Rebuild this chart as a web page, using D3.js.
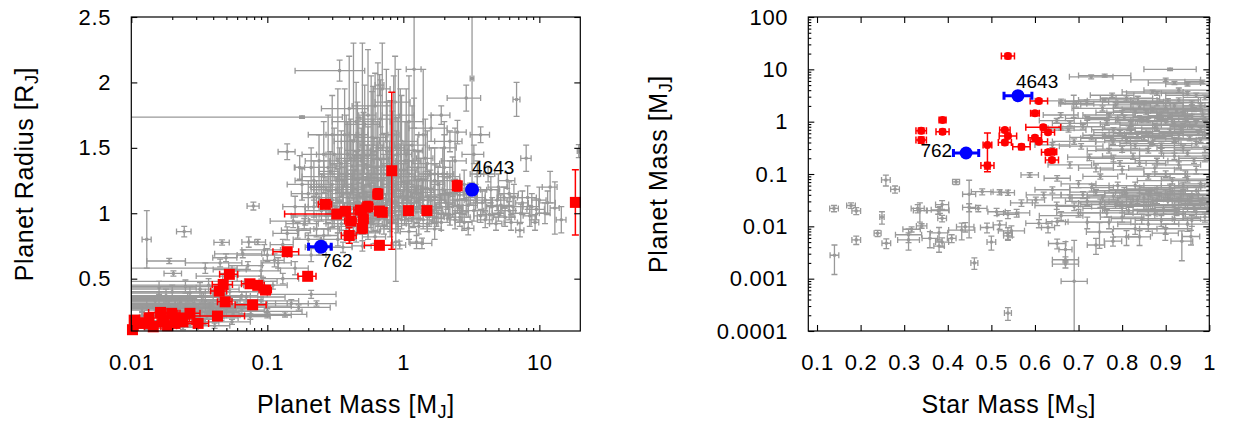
<!DOCTYPE html>
<html><head><meta charset="utf-8">
<script src="https://cdn.jsdelivr.net/npm/d3@7"></script>
<style>
html,body{margin:0;padding:0;background:#fff;}
svg text{font-family:"Liberation Sans",Arial,Helvetica,sans-serif;fill:#000;}
</style></head><body>
<svg id="chart" width="1243" height="432"></svg>
<script>
// ---------------- DATA ----------------
// Left panel: [planet mass (MJ), planet radius (RJ), mass err, radius err]
const leftGray = [
 // low-mass planets
 [0.011,0.15,0.004,0.02],[0.012,0.22,0.006,0.03],[0.013,0.30,0.008,0.04],[0.014,0.18,0.005,0.02],
 [0.015,0.26,0.010,0.03],[0.016,0.35,0.012,0.05],[0.017,0.14,0.006,0.02],[0.018,0.21,0.009,0.03],
 [0.019,0.29,0.011,0.04],[0.020,0.40,0.015,0.05],[0.021,0.17,0.007,0.02],[0.022,0.24,0.010,0.03],
 [0.023,0.32,0.020,0.04],[0.024,0.20,0.008,0.02],[0.025,0.27,0.015,0.03],[0.026,0.36,0.018,0.04],
 [0.027,0.15,0.006,0.02],[0.028,0.23,0.012,0.03],[0.029,0.31,0.020,0.04],[0.030,0.19,0.010,0.02],
 [0.031,0.28,0.025,0.03],[0.032,0.42,0.030,0.05],[0.033,0.25,0.015,0.03],[0.035,0.33,0.028,0.04],
 [0.036,0.21,0.012,0.02],[0.038,0.29,0.030,0.03],[0.040,0.37,0.035,0.04],[0.042,0.24,0.020,0.03],
 [0.044,0.30,0.040,0.03],[0.046,0.20,0.015,0.02],[0.048,0.34,0.045,0.04],[0.050,0.27,0.025,0.03],
 [0.053,0.40,0.050,0.05],[0.056,0.23,0.020,0.02],[0.060,0.31,0.055,0.03],[0.065,0.26,0.030,0.03],
 [0.070,0.36,0.065,0.04],[0.075,0.21,0.030,0.02],[0.080,0.29,0.070,0.03],[0.090,0.33,0.080,0.03],
 [0.013,0.12,0.004,0.01],[0.016,0.43,0.014,0.05],[0.019,0.16,0.006,0.02],[0.024,0.13,0.007,0.02],
 [0.027,0.39,0.022,0.05],[0.034,0.17,0.010,0.02],[0.037,0.45,0.030,0.05],[0.041,0.14,0.012,0.02],
 [0.047,0.48,0.040,0.06],[0.055,0.17,0.020,0.02],[0.012,0.27,0.010,0.03],[0.015,0.33,0.013,0.04],
 [0.018,0.37,0.016,0.05],[0.021,0.30,0.019,0.04],[0.025,0.44,0.023,0.05],[0.029,0.19,0.012,0.02],
 [0.033,0.36,0.031,0.04],[0.039,0.26,0.020,0.03],[0.045,0.22,0.018,0.02],[0.052,0.30,0.030,0.03],
 [0.17,0.28,0.12,0.02],[0.10,0.25,0.08,0.02],[0.21,0.38,0.11,0.03],[0.23,0.31,0.09,0.02],
 [0.135,0.227,0.06,0.02],[0.10,0.22,0.05,0.02],[0.15,0.31,0.05,0.03],[0.065,0.37,0.02,0.03],
 // sub-Saturns and outliers
 [0.013,0.80,0.001,0.22],[0.0245,0.86,0.003,0.04],[0.019,0.635,0.006,0.02],[0.0204,0.54,0.003,0.02],
 [0.079,1.055,0.008,0.03],[0.14,1.47,0.02,0.06],[0.173,1.35,0.015,0.09],[0.0465,0.777,0.006,0.02],
 [0.073,0.78,0.008,0.04],[0.085,0.78,0.012,0.02],[0.0497,0.66,0.010,0.03],[0.066,0.69,0.025,0.03],
 [0.095,0.72,0.030,0.04],[0.113,0.64,0.020,0.05],[0.14,0.846,0.030,0.05],[0.167,0.87,0.040,0.06],
 [0.20,0.80,0.045,0.05],[0.187,0.92,0.050,0.04],[0.13,0.76,0.025,0.04],[0.072,0.60,0.020,0.03],
 [0.12,0.62,0.030,0.04],[0.055,0.57,0.015,0.03],[0.093,0.48,0.025,0.03],[0.13,0.50,0.040,0.04],
 [0.09,0.56,0.035,0.04],[0.11,0.45,0.030,0.03],[0.16,0.58,0.040,0.05],[0.06,0.52,0.030,0.04],
 [0.10,0.68,0.040,0.05],[0.21,0.68,0.060,0.05],[0.24,0.74,0.050,0.06],[0.045,0.62,0.020,0.03],
 [0.035,0.58,0.025,0.04],[0.155,0.94,0.050,0.05],[0.23,0.88,0.060,0.06],[0.26,0.83,0.070,0.05],
 [0.18,1.735,0.176,0.01],[0.34,2.09,0.18,0.08],[0.67,1.98,0.05,0.08],[1.2,2.10,0.15,0.45],
 // hot Jupiters
 [0.22,1.05,0.03,0.08],[0.25,1.20,0.04,0.10],[0.27,0.98,0.05,0.06],[0.29,1.32,0.05,0.15],
 [0.30,1.10,0.06,0.12],[0.31,1.45,0.08,0.20],[0.33,1.25,0.04,0.09],[0.34,1.02,0.05,0.07],
 [0.35,1.38,0.06,0.25],[0.36,1.15,0.07,0.10],[0.37,1.60,0.10,0.35],[0.38,1.28,0.05,0.12],
 [0.40,1.08,0.06,0.08],[0.41,1.42,0.09,0.30],[0.42,1.22,0.05,0.11],[0.43,1.55,0.08,0.75],
 [0.44,0.97,0.06,0.06],[0.45,1.33,0.07,0.14],[0.46,1.18,0.05,0.09],[0.47,1.48,0.10,0.25],
 [0.48,1.05,0.06,0.08],[0.50,1.27,0.08,0.16],[0.51,1.37,0.06,0.40],[0.52,1.12,0.07,0.10],
 [0.53,0.93,0.05,0.07],[0.55,1.44,0.09,0.22],[0.56,1.21,0.06,0.12],[0.58,1.30,0.10,0.18],
 [0.59,1.03,0.06,0.09],[0.60,1.52,0.12,0.45],[0.62,1.16,0.07,0.11],[0.63,1.35,0.09,0.20],
 [0.65,1.25,0.15,0.30],[0.66,0.99,0.06,0.08],[0.68,1.41,0.10,0.25],[0.70,1.14,0.08,0.12],
 [0.72,1.30,0.10,0.15],[0.74,1.06,0.07,0.09],[0.76,1.50,0.12,0.35],[0.78,1.22,0.09,0.13],
 [0.80,1.36,0.11,0.50],[0.82,1.10,0.08,0.10],[0.85,1.28,0.10,0.16],[0.87,1.01,0.09,0.08],
 [0.90,1.45,0.15,0.28],[0.92,1.18,0.09,0.12],[0.95,1.33,0.12,0.20],[0.98,1.08,0.10,0.09],
 [1.00,1.24,0.12,0.14],[1.03,1.40,0.15,0.30],[1.06,1.13,0.11,0.10],[1.10,1.30,0.13,0.22],
 [1.12,1.02,0.10,0.08],[1.15,1.20,0.14,0.15],[1.20,1.48,0.18,0.40],[1.25,1.15,0.12,0.11],
 [1.28,1.35,0.20,0.25],[1.30,1.05,0.12,0.09],[1.35,1.26,0.15,0.16],[1.40,1.10,0.14,0.10],
 [1.45,1.42,0.20,0.30],[1.50,1.19,0.16,0.13],[1.55,0.98,0.15,0.08],[1.60,1.30,0.20,0.20],
 [1.70,1.12,0.18,0.12],[1.80,1.22,0.22,0.14],[1.90,1.05,0.20,0.09],[2.00,1.35,0.30,0.25],
 [2.10,1.15,0.25,0.12],[2.20,0.99,0.22,0.08],[2.30,1.25,0.30,0.18],[2.50,1.10,0.30,0.10],
 [2.70,1.02,0.30,0.09],[2.90,1.88,0.80,0.10],[3.20,2.03,0.10,0.80],
 [0.33,1.40,0.04,0.55],[0.50,1.60,0.05,0.70],[0.58,1.45,0.06,0.60],[0.65,1.50,0.05,0.65],
 [0.75,1.55,0.08,0.55],[0.92,1.50,0.10,0.60],[1.40,1.60,0.10,0.50],[0.38,1.30,0.05,0.45],
 [0.28,1.35,0.04,0.40],[0.55,1.75,0.08,0.50],[0.85,1.60,0.08,0.45],[1.05,1.45,0.10,0.50],
 [0.70,1.95,0.10,0.35],[0.45,1.70,0.15,0.30],[0.62,1.82,0.20,0.25],[0.95,1.75,0.25,0.20],
 [0.24,1.12,0.06,0.10],[0.26,1.28,0.08,0.12],[0.32,1.18,0.10,0.10],[0.39,0.95,0.08,0.07],
 [0.47,1.00,0.09,0.08],[0.57,0.96,0.10,0.07],[0.64,1.08,0.12,0.08],[0.73,0.98,0.10,0.07],
 [0.83,1.15,0.15,0.10],[0.97,0.95,0.12,0.07],[1.08,1.18,0.20,0.10],[1.18,0.96,0.15,0.07],
 [1.33,1.12,0.25,0.09],[1.52,1.05,0.20,0.08],[1.75,0.97,0.25,0.07],[2.05,1.08,0.35,0.10],
 [2.40,0.95,0.30,0.07],[0.36,1.20,0.15,0.15],[0.44,1.26,0.12,0.18],[0.53,1.16,0.18,0.12],
 [0.61,1.27,0.15,0.20],[0.69,1.20,0.20,0.15],[0.79,1.33,0.18,0.22],[0.88,1.22,0.20,0.15],
 [1.01,1.33,0.25,0.22],[1.22,1.28,0.30,0.20],[1.58,1.18,0.35,0.15],[1.95,1.30,0.40,0.20],
 [0.30,0.95,0.10,0.06],[0.32,1.05,0.12,0.07],[0.35,0.92,0.08,0.05],[0.37,1.00,0.10,0.08],
 [0.39,1.12,0.12,0.10],[0.41,1.03,0.09,0.07],[0.43,0.90,0.10,0.06],[0.45,1.08,0.15,0.10],
 [0.47,1.14,0.12,0.09],[0.49,0.94,0.10,0.07],[0.51,1.00,0.13,0.08],[0.54,1.07,0.15,0.09],
 [0.57,1.13,0.12,0.10],[0.60,0.92,0.10,0.06],[0.63,1.00,0.15,0.08],[0.67,1.10,0.15,0.10],
 [0.71,1.04,0.12,0.08],[0.76,0.95,0.15,0.07],[0.80,1.02,0.18,0.09],[0.86,1.08,0.15,0.10],
 [0.93,1.04,0.20,0.08],[1.02,0.98,0.20,0.07],[1.14,1.08,0.25,0.09],[1.26,1.01,0.20,0.08],
 [1.38,1.16,0.30,0.10],[1.65,1.02,0.30,0.08],[1.85,1.14,0.35,0.10],[2.15,1.05,0.40,0.09],
 [2.6,1.14,0.45,0.10],[3.0,1.06,0.50,0.09],[3.4,1.12,0.60,0.10],[4.4,1.18,0.70,0.10],
 [5.2,1.06,0.80,0.08],[6.5,1.12,1.00,0.10],[8.8,1.05,1.20,0.10],[6.2,0.93,0.70,0.06],
 [4.0,0.95,0.50,0.06],[2.8,0.93,0.40,0.06],
 [0.30,1.22,0.08,0.15],[0.34,1.30,0.10,0.20],[0.39,1.45,0.12,0.25],[0.42,1.36,0.10,0.20],
 [0.46,1.55,0.15,0.30],[0.49,1.40,0.12,0.25],[0.54,1.30,0.15,0.22],[0.59,1.58,0.15,0.35],
 [0.64,1.42,0.20,0.28],[0.71,1.36,0.18,0.25],[0.77,1.27,0.20,0.20],[0.83,1.48,0.25,0.30],
 [0.89,1.38,0.20,0.25],[0.97,1.55,0.30,0.35],[1.08,1.40,0.25,0.30],[1.16,1.52,0.30,0.30],
 [1.3,1.25,0.30,0.22],[1.5,1.38,0.35,0.25],[1.7,1.30,0.40,0.20],[2.4,1.40,0.50,0.25],
 [2.0,1.50,0.45,0.20],[0.52,1.68,0.15,0.30],[0.68,1.72,0.20,0.30],[0.87,1.85,0.25,0.35],
 [0.40,1.80,0.15,0.40],[0.30,1.60,0.10,0.30],[1.10,1.70,0.30,0.35],[0.26,1.45,0.08,0.25],
 [0.22,1.25,0.06,0.15],[0.20,1.15,0.05,0.10],
 [0.28,0.88,0.06,0.05],[0.33,0.80,0.08,0.05],[0.45,0.84,0.10,0.06],[0.55,0.86,0.12,0.06],
 [0.72,0.90,0.10,0.06],[0.62,0.82,0.12,0.05],[0.36,0.74,0.06,0.04],[1.1,0.86,0.15,0.06],
 [1.5,0.92,0.30,0.06],[1.25,0.78,0.15,0.05],[0.5,0.75,0.08,0.04],
 [1.6,1.10,0.30,0.08],[1.8,1.00,0.35,0.07],[2.0,1.18,0.40,0.10],[2.3,1.05,0.45,0.08],
 [2.6,0.97,0.50,0.07],[2.9,1.10,0.55,0.09],[3.3,1.02,0.60,0.08],[3.8,1.08,0.70,0.09],
 [4.3,0.99,0.80,0.07],[4.9,1.10,0.90,0.08],[5.6,0.97,1.00,0.07],[6.4,1.05,1.10,0.08],
 [7.3,1.00,1.20,0.07],[8.2,1.12,1.30,0.09],[9.5,1.03,1.40,0.08],[11.5,1.08,1.60,0.09],
 [2.2,1.28,0.40,0.12],[2.8,1.22,0.50,0.11],[3.5,1.18,0.60,0.10],[1.4,0.95,0.25,0.07],
 [1.2,1.12,0.20,0.09],[1.0,1.05,0.20,0.08],[1.7,1.25,0.30,0.12],[1.3,0.90,0.20,0.06],
 [0.9,0.92,0.15,0.07],[0.8,0.88,0.12,0.06],[1.9,0.93,0.30,0.06],[2.4,1.16,0.40,0.10],
 [5.0,1.20,0.80,0.10],[6.0,1.15,1.00,0.09],
 [0.16,1.05,0.03,0.08],[0.18,1.22,0.04,0.12],[0.19,0.98,0.04,0.07],[0.21,1.35,0.05,0.15],
 [0.23,1.15,0.05,0.10],[0.25,1.02,0.06,0.08],[0.27,1.18,0.06,0.10],[0.29,1.08,0.07,0.09],
 [0.31,0.98,0.07,0.08],[0.24,1.40,0.05,0.20],
 // massive planets
 [3.0,0.885,0.30,0.05],[7.2,0.87,0.50,0.05],[9.3,0.93,0.60,0.06],[13.0,1.04,1.00,0.20],
 [14.5,0.95,1.20,0.10],[3.5,1.30,0.40,0.10],[4.0,1.10,0.50,0.08],[4.5,1.05,0.40,0.07],
 [5.0,1.00,0.50,0.06],[5.5,1.12,0.60,0.08],[6.0,1.02,0.70,0.07],[6.8,1.87,0.40,0.13],
 [7.5,1.08,0.80,0.09],[8.5,0.98,0.90,0.08],[10.0,1.10,1.20,0.10],[11.0,1.00,1.00,0.08],
 [12.0,1.20,1.50,0.12],[3.3,1.45,0.60,0.07],[4.2,1.30,0.50,0.06],[5.8,1.25,0.80,0.06],
 [8.0,1.42,0.70,0.10],[19.5,1.475,0.50,0.05],[3.7,0.98,0.40,0.05],[4.8,0.92,0.50,0.05],
 [2.6,1.00,0.30,0.06],[3.1,1.15,0.35,0.08],[1.7,0.88,0.20,0.08],[1.37,0.77,0.25,0.04],
 [0.88,0.78,0.05,0.30],[0.94,0.757,0.10,0.03],[2.2,1.55,0.50,0.08],[1.9,1.75,0.30,0.07],
 [2.5,1.62,0.40,0.09],[1.6,1.65,0.50,0.10],[3.7,1.60,0.60,0.06]
];
const leftRed = [
 [0.0105,0.183,0.001,0.02],[0.0102,0.11,0.001,0.02],[0.0122,0.158,0.002,0.02],[0.0145,0.132,0.002,0.02],
 [0.0164,0.242,0.003,0.03],[0.0198,0.235,0.003,0.03],[0.0228,0.196,0.004,0.02],[0.027,0.235,0.005,0.03],
 [0.031,0.158,0.006,0.02],[0.0209,0.158,0.004,0.02],[0.0172,0.17,0.003,0.02],[0.0135,0.20,0.002,0.02],
 [0.024,0.17,0.004,0.02],[0.0185,0.14,0.003,0.02],[0.043,0.214,0.025,0.02],[0.049,0.323,0.006,0.03],
 [0.0443,0.405,0.006,0.03],[0.0474,0.456,0.008,0.03],[0.0526,0.533,0.008,0.03],[0.0746,0.461,0.010,0.03],
 [0.085,0.449,0.010,0.03],[0.097,0.413,0.010,0.03],[0.078,0.30,0.020,0.03],[0.14,0.706,0.030,0.03],
 [0.198,0.518,0.030,0.03],[0.267,1.068,0.030,0.03],[0.324,0.994,0.190,0.03],[0.375,1.015,0.030,0.03],
 [0.483,1.024,0.050,0.03],[0.547,1.05,0.050,0.04],[0.667,1.017,0.050,0.03],[0.70,1.007,0.050,0.03],
 [1.09,1.02,0.050,0.03],[1.49,1.02,0.070,0.03],[0.41,0.94,0.040,0.03],[0.508,0.958,0.040,0.04],
 [0.50,0.885,0.040,0.04],[0.40,0.83,0.050,0.06],[0.667,0.755,0.150,0.03],[0.65,1.147,0.050,0.04],
 [0.822,1.325,0.020,0.60],[2.49,1.21,0.100,0.04],[18.4,1.083,0.30,0.25]
];
const leftBlue = [[3.2,1.18,0,0],[0.248,0.744,0.047,0]];
const blueNames = ["4643","762"];

// Right panel: [star mass (MS), planet mass (MJ), star mass err, planet mass err]
const rightGray = [
 [0.258,0.077,0.010,0.018],[0.279,0.051,0.010,0.008],[0.139,0.022,0.010,0.003],[0.178,0.025,0.010,0.003],
 [0.19,0.0197,0.010,0.003],[0.249,0.015,0.005,0.004],[0.331,0.022,0.015,0.004],[0.336,0.020,0.015,0.008],
 [0.239,0.0074,0.008,0.001],[0.19,0.0055,0.010,0.001],[0.259,0.00475,0.010,0.001],[0.14,0.0028,0.010,0.0016],
 [0.31,0.0069,0.030,0.002],[0.317,0.0088,0.020,0.001],[0.31,0.0055,0.025,0.002],[0.34,0.0102,0.012,0.001],
 [0.359,0.0059,0.018,0.002],[0.378,0.020,0.025,0.003],[0.382,0.0207,0.020,0.003],[0.387,0.026,0.015,0.005],
 [0.387,0.0142,0.010,0.002],[0.38,0.0075,0.020,0.002],[0.387,0.0050,0.015,0.001],[0.38,0.0042,0.012,0.001],
 [0.409,0.0059,0.010,0.001],[0.432,0.0085,0.030,0.003],[0.44,0.0098,0.020,0.002],[0.449,0.041,0.015,0.035],
 [0.449,0.023,0.015,0.004],[0.47,0.022,0.020,0.003],[0.461,0.002,0.008,0.0005],[0.479,0.046,0.025,0.006],
 [0.49,0.0095,0.015,0.002],[0.50,0.005,0.010,0.0015],[0.519,0.045,0.020,0.005],[0.538,0.044,0.015,0.005],
 [0.512,0.019,0.020,0.003],[0.519,0.0107,0.015,0.002],[0.538,0.017,0.025,0.003],[0.538,0.0074,0.010,0.002],
 [0.538,0.0066,0.010,0.001],[0.546,0.0082,0.030,0.002],[0.538,0.00022,0.008,0.00006],[0.558,0.018,0.030,0.003],
 [0.569,0.028,0.025,0.004],[0.602,0.032,0.020,0.004],[0.609,0.0114,0.030,0.002],[0.63,0.0095,0.015,0.002],
 [0.651,0.0047,0.020,0.001],[0.651,0.0123,0.025,0.002],[0.67,0.0023,0.030,0.0003],[0.67,0.0019,0.030,0.0003],
 [0.69,0.00089,0.030,0.0045],[0.67,0.0036,0.015,0.0015],[0.74,0.0044,0.020,0.0015],[0.748,0.0078,0.030,0.004],
 [0.779,0.0052,0.020,0.001],[0.81,0.0063,0.030,0.002],[0.84,0.0063,0.025,0.002],[0.899,0.0074,0.030,0.002],
 [0.937,0.0052,0.025,0.003],[0.958,0.0064,0.020,0.002],[0.419,0.071,0.008,0.008],[0.588,0.096,0.020,0.010],
 [0.651,0.083,0.030,0.010],
 // giant planets
 [0.91,10,0.06,0.5],[0.90,6.3,0.08,0.5],[0.92,5.5,0.06,0.4],[0.95,5.2,0.05,0.4],
 [0.984,5.8,0.04,0.4],[0.777,3.2,0.05,0.3],[0.76,7.6,0.06,0.5],[0.95,3.5,0.06,0.3],
 [0.88,3.5,0.07,0.3],[0.695,2.2,0.04,0.3],[0.66,2.5,0.06,0.2],[0.719,2.4,0.05,0.2],
 [0.76,2.6,0.06,0.2],[0.84,1.9,0.06,0.2],[0.659,1.34,0.04,0.15],[0.77,1.34,0.06,0.1],
 [0.68,0.93,0.04,0.1],[0.72,1.16,0.05,0.1],[0.677,0.69,0.04,0.06],[0.706,0.34,0.05,0.04],
 [0.725,0.21,0.05,0.03],[0.78,0.20,0.06,0.03],[0.74,0.13,0.04,0.02],[0.779,0.41,0.04,0.04],
 [0.81,0.44,0.05,0.05],[0.66,0.75,0.03,0.06],[0.689,2.2,0.03,1.0],[0.729,7.2,0.05,0.6],
 [0.87,3.7,0.07,0.3],[0.836,2.76,0.05,0.3],
 [0.80,1.5,0.06,0.15],[0.82,0.9,0.07,0.1],[0.84,1.2,0.05,0.1],[0.86,0.6,0.08,0.06],
 [0.88,2.2,0.06,0.2],[0.90,1.0,0.07,0.1],[0.92,0.45,0.05,0.05],[0.94,1.4,0.06,0.15],
 [0.96,0.8,0.05,0.08],[0.98,2.0,0.04,0.2],[0.99,0.55,0.05,0.06],[0.78,0.7,0.05,0.07],
 [0.83,0.35,0.06,0.04],[0.87,1.7,0.07,0.2],[0.89,0.28,0.05,0.03],[0.91,0.65,0.08,0.07],
 [0.93,2.6,0.05,0.25],[0.95,1.1,0.07,0.12],[0.97,0.38,0.05,0.04],[1.0,1.6,0.06,0.15],
 [0.81,2.8,0.06,0.3],[0.85,0.5,0.05,0.05],[0.88,0.75,0.06,0.08],[0.90,1.8,0.08,0.2],
 [0.92,0.9,0.05,0.1],[0.94,0.32,0.06,0.04],[0.96,1.25,0.07,0.12],[0.98,0.7,0.06,0.08],
 [0.99,2.9,0.05,0.3],[0.86,1.05,0.04,0.1],[0.79,1.1,0.07,0.12],[0.83,1.6,0.05,0.15],
 [0.87,0.42,0.06,0.05],[0.91,1.3,0.05,0.1],[0.93,0.55,0.07,0.06],[0.95,0.25,0.06,0.03],
 [0.97,0.95,0.05,0.1],[0.99,1.15,0.06,0.1],[0.82,0.62,0.05,0.06],[0.89,1.45,0.06,0.15],
 [0.94,0.85,0.05,0.08],[0.98,0.45,0.06,0.05],[0.76,0.55,0.05,0.06],[0.80,0.3,0.06,0.04],
 [0.85,2.3,0.06,0.2],[0.92,2.0,0.07,0.2],[0.96,1.9,0.05,0.2],[1.0,0.8,0.05,0.08],
 [0.88,0.18,0.05,0.02],[0.93,0.15,0.05,0.02],[0.97,0.12,0.05,0.02],[0.84,0.16,0.06,0.02],
 [0.99,0.2,0.06,0.03],[0.90,0.1,0.05,0.015],[0.95,0.08,0.06,0.01],[0.86,0.09,0.05,0.01],
 [0.80,0.12,0.05,0.02],[0.75,0.09,0.04,0.01],[0.70,0.065,0.04,0.01],[0.98,0.065,0.05,0.01],
 [0.755,1.8,0.07,0.2],[0.765,0.95,0.06,0.1],[0.775,0.48,0.07,0.05],[0.785,2.1,0.08,0.2],
 [0.795,0.62,0.06,0.06],[0.805,1.2,0.09,0.12],[0.815,0.75,0.06,0.08],[0.825,2.4,0.07,0.2],
 [0.835,0.52,0.08,0.05],[0.845,1.05,0.06,0.1],[0.855,1.5,0.09,0.15],[0.865,0.38,0.07,0.04],
 [0.875,0.85,0.08,0.08],[0.885,1.25,0.06,0.12],[0.895,0.58,0.09,0.06],[0.905,2.5,0.07,0.25],
 [0.915,1.0,0.08,0.1],[0.925,1.6,0.06,0.15],[0.935,0.72,0.09,0.07],[0.945,1.15,0.07,0.12],
 [0.955,0.48,0.08,0.05],[0.965,1.7,0.06,0.15],[0.975,0.62,0.09,0.06],[0.985,1.35,0.07,0.12],
 [0.995,0.9,0.08,0.08],[0.96,2.3,0.06,0.2],[0.97,3.2,0.07,0.3],[0.93,4.0,0.08,0.4],
 [0.89,0.35,0.07,0.04],[0.86,0.28,0.06,0.03],[0.92,0.22,0.08,0.03],[0.99,0.3,0.07,0.04],
 [0.965,0.18,0.06,0.02],[0.945,0.1,0.07,0.015],[0.915,0.075,0.08,0.01],[0.875,0.13,0.06,0.02],
 [0.825,0.22,0.07,0.03],[0.795,0.16,0.06,0.02],[0.77,0.28,0.05,0.03],[0.73,0.5,0.05,0.05],
 [0.71,0.8,0.05,0.08],[0.69,0.42,0.05,0.05],[0.65,1.05,0.04,0.1],[0.64,0.36,0.04,0.04],
 [0.68,0.15,0.05,0.02],
 // small planets around sun-like stars
 [0.62,0.04,0.04,0.005],[0.65,0.025,0.05,0.004],[0.68,0.035,0.04,0.005],[0.70,0.018,0.05,0.003],
 [0.72,0.03,0.05,0.005],[0.74,0.045,0.06,0.006],[0.76,0.022,0.05,0.004],[0.78,0.038,0.06,0.006],
 [0.80,0.015,0.05,0.003],[0.82,0.028,0.06,0.005],[0.84,0.05,0.07,0.007],[0.86,0.02,0.06,0.004],
 [0.88,0.033,0.07,0.006],[0.90,0.042,0.06,0.007],[0.92,0.025,0.07,0.005],[0.94,0.017,0.06,0.004],
 [0.96,0.036,0.07,0.006],[0.98,0.028,0.06,0.005],[1.0,0.022,0.05,0.004],[0.77,0.012,0.05,0.003],
 [0.83,0.009,0.05,0.002],[0.89,0.013,0.06,0.003],[0.95,0.011,0.06,0.003],[0.99,0.015,0.05,0.003],
 [0.73,0.055,0.05,0.008],[0.79,0.06,0.06,0.01],[0.85,0.035,0.06,0.006],[0.91,0.055,0.07,0.009],
 [0.97,0.048,0.06,0.008],[0.87,0.026,0.05,0.004],[0.93,0.031,0.06,0.005],[0.81,0.043,0.05,0.007],
 [0.75,0.028,0.05,0.005],[0.69,0.024,0.04,0.004],[0.64,0.05,0.04,0.007],[0.97,0.019,0.05,0.004],
 [0.92,0.014,0.06,0.003],[0.86,0.04,0.06,0.007],[0.80,0.024,0.05,0.004],[0.94,0.06,0.05,0.01],
 [0.755,0.035,0.07,0.005],[0.765,0.018,0.06,0.003],[0.785,0.026,0.08,0.004],[0.805,0.048,0.07,0.007],
 [0.815,0.02,0.06,0.003],[0.835,0.032,0.08,0.005],[0.845,0.014,0.07,0.003],[0.855,0.025,0.06,0.004],
 [0.865,0.045,0.08,0.007],[0.875,0.017,0.07,0.003],[0.885,0.038,0.09,0.006],[0.895,0.021,0.07,0.004],
 [0.905,0.03,0.08,0.005],[0.915,0.047,0.06,0.007],[0.925,0.019,0.09,0.003],[0.935,0.04,0.07,0.006],
 [0.945,0.026,0.08,0.004],[0.955,0.033,0.06,0.005],[0.965,0.023,0.09,0.004],[0.975,0.041,0.07,0.007],
 [0.985,0.034,0.08,0.005],[0.995,0.027,0.06,0.004],[0.96,0.013,0.07,0.003],[0.90,0.009,0.06,0.002],
 [0.86,0.011,0.07,0.003],[0.72,0.012,0.05,0.003],[0.66,0.016,0.05,0.003],[0.71,0.04,0.05,0.006],
 [0.79,0.03,0.07,0.005],[0.83,0.06,0.06,0.01],[0.88,0.052,0.07,0.008],[0.98,0.057,0.06,0.009],
 [1.0,0.04,0.06,0.006],[0.93,0.021,0.07,0.004],[0.87,0.03,0.06,0.005]
];
const rightRed = [
 [0.339,0.673,0.012,0.08],[0.339,0.447,0.012,0.06],[0.388,1.08,0.008,0.12],[0.388,0.644,0.015,0.07],
 [0.538,18,0.015,2],[0.609,2.48,0.02,0.25],[0.60,1.45,0.01,0.15],[0.619,0.78,0.04,0.08],
 [0.63,0.63,0.015,0.06],[0.531,0.69,0.012,0.07],[0.538,0.53,0.02,0.05],[0.531,0.40,0.015,0.04],
 [0.491,0.36,0.01,0.25],[0.491,0.145,0.015,0.02],[0.569,0.33,0.02,0.04],[0.60,0.495,0.015,0.05],
 [0.609,0.415,0.02,0.04],[0.63,0.26,0.015,0.03],[0.64,0.265,0.01,0.03],[0.639,0.185,0.015,0.02]
];
const rightBlue = [[0.561,3.14,0.032,0],[0.442,0.252,0.029,0]];

const leftXTicks = [0.01,0.1,1,10];
const leftYTicks = [0.5,1,1.5,2,2.5];
const rightXTicks = [0.1,0.2,0.3,0.4,0.5,0.6,0.7,0.8,0.9,1];
const rightYTicks = [1e-4,1e-3,1e-2,0.1,1,10,100];

// ---------------- LAYOUT ----------------
const svg = d3.select("#chart");
const GRAY = "#999999", RED = "#ff0000", BLUE = "#0000ff";
const PL = {x0:131.3, x1:580.3, y0:17, y1:331};
const PR = {x0:808.3, x1:1209.3, y0:17, y1:331};

const xL = d3.scaleLog().domain([0.01,20]).range([PL.x0,PL.x1]);
const yL = d3.scaleLinear().domain([0.1,2.5]).range([PL.y1,PL.y0]);
const xR = d3.scaleLinear().domain([0.08,1]).range([PR.x0,PR.x1]);
const yR = d3.scaleLog().domain([1e-4,100]).range([PR.y1,PR.y0]);

function minorLog(lo, hi){
  const out=[];
  for(let e=Math.floor(Math.log10(lo)); e<=Math.ceil(Math.log10(hi)); e++)
    for(let k=2;k<=9;k++){const v=k*Math.pow(10,e); if(v>lo&&v<hi) out.push(v);}
  return out;
}

const defs = svg.append("defs");
function clip(id,P){
  defs.append("clipPath").attr("id",id).append("rect")
    .attr("x",P.x0).attr("y",P.y0).attr("width",P.x1-P.x0).attr("height",P.y1-P.y0);
}
clip("clipL",PL); clip("clipR",PR);

function isLog(s){ return typeof s.base === "function"; }
function errPath(xs, ys, cap){
  return d => {
    const px=xs(d[0]), py=ys(d[1]); let p="";
    if(d[2]>0){
      let lo=d[0]-d[2]; if(lo<=0 && isLog(xs)) lo=xs.domain()[0]/1000;
      const a=xs(lo), b=xs(d[0]+d[2]);
      p+=`M${a},${py}H${b}M${a},${py-cap}V${py+cap}M${b},${py-cap}V${py+cap}`;
    }
    if(d[3]>0){
      let lo=d[1]-d[3]; if(lo<=0 && isLog(ys)) lo=ys.domain()[0]/1000;
      const a=ys(lo), b=ys(d[1]+d[3]);
      p+=`M${px},${a}V${b}M${px-cap},${a}H${px+cap}M${px-cap},${b}H${px+cap}`;
    }
    return p||"M0,0";
  };
}

function panel(P, xs, ys, clipId, gray, red, redShape, blue, cfg){
  const g = svg.append("g");
  g.append("g").attr("clip-path",`url(#${clipId})`)
    .selectAll("path").data(gray).join("path")
    .attr("d",errPath(xs,ys,3)).attr("stroke",GRAY).attr("stroke-width",1.3).attr("fill","none");
  g.append("g").attr("clip-path",`url(#${clipId})`)
    .selectAll("circle").data(gray).join("circle")
    .attr("cx",d=>xs(d[0])).attr("cy",d=>ys(d[1])).attr("r",1.8).attr("fill",GRAY);
  g.append("g").attr("clip-path",`url(#${clipId})`)
    .selectAll("path").data(red).join("path")
    .attr("d",errPath(xs,ys,3.5)).attr("stroke",RED).attr("stroke-width",1.5).attr("fill","none");
  if(redShape==="square"){
    g.append("g").selectAll("rect").data(red).join("rect")
      .attr("x",d=>xs(d[0])-5.5).attr("y",d=>ys(d[1])-5.5).attr("width",11).attr("height",11).attr("fill",RED);
  } else {
    g.append("g").selectAll("circle").data(red).join("circle")
      .attr("cx",d=>xs(d[0])).attr("cy",d=>ys(d[1])).attr("r",4).attr("fill",RED);
  }
  g.append("g").selectAll("path").data(blue).join("path")
    .attr("d",errPath(xs,ys,4)).attr("stroke",BLUE).attr("stroke-width",3).attr("fill","none");
  g.append("g").selectAll("circle").data(blue).join("circle")
    .attr("cx",d=>xs(d[0])).attr("cy",d=>ys(d[1])).attr("r",cfg.blueR).attr("fill",BLUE);
  g.append("g").selectAll("text").data(blue).join("text")
    .attr("x",(d,i)=>xs(d[0])+cfg.lab[i][0]).attr("y",(d,i)=>ys(d[1])+cfg.lab[i][1])
    .attr("text-anchor",(d,i)=>cfg.lab[i][2])
    .attr("font-size",19).text((d,i)=>blueNames[i]);

  const ax = svg.append("g").attr("class","axes");
  const style = sel => { sel.select(".domain").remove();
    sel.selectAll("line").attr("stroke","#000").attr("stroke-width",1.1);
    sel.selectAll("text").attr("font-size",cfg.tickFs).attr("letter-spacing",cfg.ls).attr("fill","#000")
      .attr("font-family",'"Liberation Sans",Arial,Helvetica,sans-serif'); };
  ax.append("g").attr("transform",`translate(0,${P.y1})`)
    .call(d3.axisBottom(xs).tickValues(cfg.xt).tickSize(-6).tickSizeOuter(0).tickPadding(23).tickFormat(cfg.xFmt)).call(style);
  ax.append("g").attr("transform",`translate(0,${P.y0})`)
    .call(d3.axisTop(xs).tickValues(cfg.xt).tickSize(-6).tickSizeOuter(0).tickFormat("")).call(style);
  ax.append("g").attr("transform",`translate(${P.x0},0)`)
    .call(d3.axisLeft(ys).tickValues(cfg.yt).tickSize(-6).tickSizeOuter(0).tickPadding(20).tickFormat(cfg.yFmt)).call(style);
  ax.append("g").attr("transform",`translate(${P.x1},0)`)
    .call(d3.axisRight(ys).tickValues(cfg.yt).tickSize(-6).tickSizeOuter(0).tickFormat("")).call(style);
  if(cfg.xMinor){
    ax.append("g").attr("transform",`translate(0,${P.y1})`)
      .call(d3.axisBottom(xs).tickValues(cfg.xMinor).tickSize(-3).tickSizeOuter(0).tickFormat("")).call(style);
    ax.append("g").attr("transform",`translate(0,${P.y0})`)
      .call(d3.axisTop(xs).tickValues(cfg.xMinor).tickSize(-3).tickSizeOuter(0).tickFormat("")).call(style);
  }
  if(cfg.yMinor){
    ax.append("g").attr("transform",`translate(${P.x0},0)`)
      .call(d3.axisLeft(ys).tickValues(cfg.yMinor).tickSize(-3).tickSizeOuter(0).tickFormat("")).call(style);
    ax.append("g").attr("transform",`translate(${P.x1},0)`)
      .call(d3.axisRight(ys).tickValues(cfg.yMinor).tickSize(-3).tickSizeOuter(0).tickFormat("")).call(style);
  }
  ax.append("rect").attr("x",P.x0).attr("y",P.y0).attr("width",P.x1-P.x0).attr("height",P.y1-P.y0)
    .attr("fill","none").attr("stroke","#000").attr("stroke-width",1.2);

  const xt = ax.append("text").attr("x",(P.x0+P.x1)/2).attr("y",413).attr("text-anchor","middle")
    .attr("font-size",cfg.titleFs).attr("letter-spacing",cfg.tls);
  xt.append("tspan").text(cfg.xTitle[0]+" [M");
  xt.append("tspan").attr("font-size",cfg.titleFs*0.72).attr("dy",5).text(cfg.xTitle[1]);
  xt.append("tspan").attr("dy",-5).text("]");
  const cy=(P.y0+P.y1)/2;
  const yt = ax.append("text").attr("transform",`translate(${cfg.yTitleX},${cy}) rotate(-90)`)
    .attr("text-anchor","middle").attr("font-size",cfg.titleFs).attr("letter-spacing",cfg.tls);
  yt.append("tspan").text(cfg.yTitle[0]+" [");
  yt.append("tspan").text(cfg.yTitle[1]);
  yt.append("tspan").attr("font-size",cfg.titleFs*0.72).attr("dy",5).text(cfg.yTitle[2]);
  yt.append("tspan").attr("dy",-5).text("]");
}

panel(PL, xL, yL, "clipL", leftGray, leftRed, "square", leftBlue, {
  blueR:7, lab:[[0,-16,"start"],[0,20,"start"]],
  xt:leftXTicks, yt:leftYTicks, xMinor:minorLog(0.01,20), yMinor:null,
  xFmt:d=>String(d), yFmt:d=>String(d),
  tickFs:22, ls:0.7, titleFs:25, tls:0.6,
  xTitle:["Planet Mass","J"], yTitle:["Planet Radius","R","J"], yTitleX:33
});
panel(PR, xR, yR, "clipR", rightGray, rightRed, "circle", rightBlue, {
  blueR:6.5, lab:[[-2,-8,"start"],[-14,4,"end"]],
  xt:rightXTicks, yt:rightYTicks, xMinor:null, yMinor:minorLog(1e-4,100),
  xFmt:d=>String(d), yFmt:d=>{ const s=d3.format("~g")(d); return d<0.001? "0.0001": s; },
  tickFs:22, ls:0.7, titleFs:25, tls:0.6,
  xTitle:["Star Mass","S"], yTitle:["Planet Mass","M","J"], yTitleX:667
});
</script></body></html>
